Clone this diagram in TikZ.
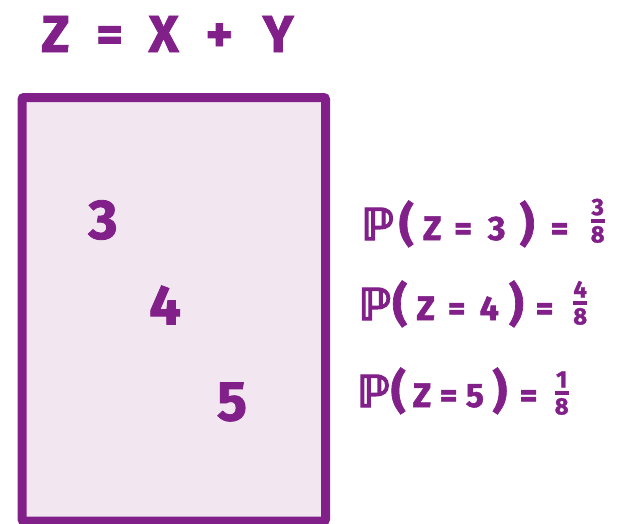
\documentclass[tikz,border=0pt]{standalone}
\usepackage{amsmath}
\usepackage{fontspec}
\setmainfont{Fira Sans}[BoldFeatures={FakeBold=1.5}]
\newfontfamily\dvfont{DejaVu Sans}[FakeBold=3]
\definecolor{pp}{HTML}{82208A}
\definecolor{lav}{HTML}{F2E6F1}
\newcommand\cb[2]{\makebox[#1pt]{#2}}
\newcommand\bbP{{\dvfont\fontsize{44}{44}\selectfont ℙ}}
\newcommand\lp{{\fontsize{46}{46}\selectfont(}}
\newcommand\rp{{\fontsize{46}{46}\selectfont)}}
\newcommand\fr[3]{\raisebox{#3pt}{$\genfrac{}{}{3.5pt}{1}{\text{\bfseries #1}}{\text{\bfseries #2}}$}}
\begin{document}
\begin{tikzpicture}[x=1pt,y=-1pt,
  txt/.style={text=pp, inner sep=0pt, font=\bfseries\fontsize{34}{34}\selectfont},
  big/.style={txt, font=\bfseries\fontsize{56}{56}\selectfont}]
\useasboundingbox (0,0) rectangle (624,523);
\draw[pp, fill=lav, line width=9pt, rounded corners=2pt] (22,97.5) rectangle (325.5,521);
\node[txt, anchor=base west, font=\bfseries\fontsize{52}{52}\selectfont] (eq) at (28,52)
  {\cb{54.5}{Z}\cb{54}{=}\cb{54}{X}\cb{57.5}{+}\cb{60}{Y}};
\node[big] (n3) at (103,220) {3};
\node[big] (n4) at (165,305) {4};
\node[big] (n5) at (232,402) {5};
\node[txt, anchor=base west] (p3) at (362,240)
  {\cb{31.25}{\bbP}\cb{25.75}{\lp}\cb{26.25}{Z}\cb{35.5}{=}\cb{31.5}{3}\cb{29.25}{\rp}\cb{36}{=}\cb{40}{\fr{3}{8}{13}}};
\node[txt, anchor=base west] (p4) at (362,320)
  {\cb{25.5}{\bbP}\cb{24.25}{\lp}\cb{27.5}{Z}\cb{34.75}{=}\cb{30}{4}\cb{24.25}{\rp}\cb{32.5}{=}\cb{38.5}{\fr{4}{8}{11}}};
\node[txt, anchor=base west] (p5) at (360,407)
  {\cb{26.75}{\bbP}\cb{22.75}{\lp}\cb{24.75}{Z}\cb{28.5}{=}\cb{24}{5}\cb{25.75}{\rp}\cb{32}{=}\cb{34}{\fr{1}{8}{8}}};
\end{tikzpicture}
\end{document}
